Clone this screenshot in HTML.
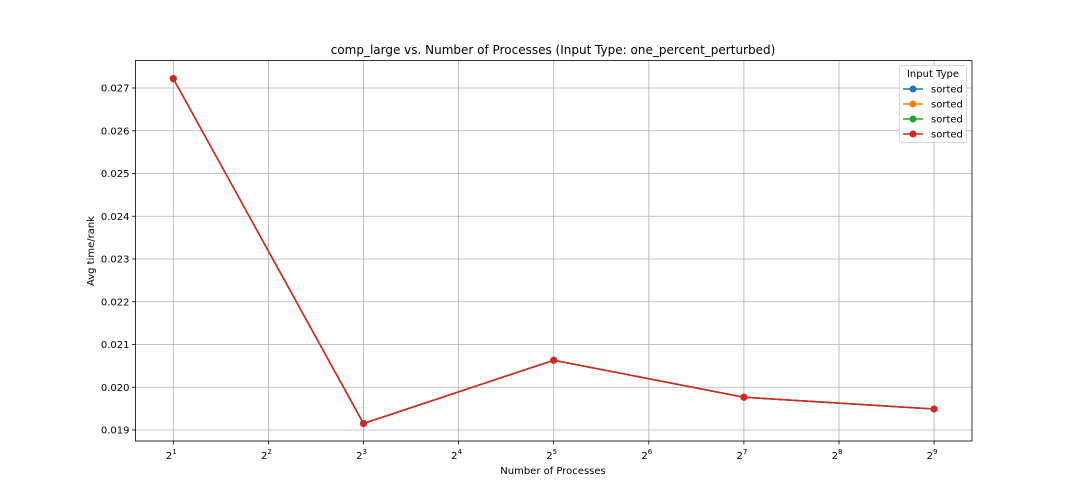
<!DOCTYPE html>
<html><head><meta charset="utf-8"><style>
body{margin:0;background:#fff;}
svg{display:block;font-family:"DejaVu Sans","Liberation Sans",sans-serif;}
</style></head><body>
<svg id="c" width="1080" height="504"></svg>
<script>
const exponents=[1,3,5,7,9];
const seriesNames=["sorted","sorted","sorted","sorted"];
const seriesColors=["#1f77b4","#ff7f0e","#2ca02c","#d62728"];
const values=[0.02722,0.019152,0.020632,0.019766,0.019491];
const yTicks=[0.019,0.020,0.021,0.022,0.023,0.024,0.025,0.026,0.027];
const xTicks=[1,2,3,4,5,6,7,8,9];

const NS="http://www.w3.org/2000/svg";
const svg=document.getElementById('c');
const L=135.5,R=972,T=60.5,B=441;
const xs=e=>173.3+(e-1)*95.1;
const ys=v=>430-(v-0.019)*42750;
function mk(t,a,p){const e=document.createElementNS(NS,t);for(const k in a)e.setAttribute(k,a[k]);(p||svg).appendChild(e);return e;}

const grid=mk('g',{});


xTicks.forEach(e=>{
  const x=xs(e);
  mk('line',{x1:x,x2:x,y1:T,y2:B,stroke:'#b0b0b0','stroke-width':0.8},grid);
  mk('line',{x1:x,x2:x,y1:B,y2:B+3.5,stroke:'#000','stroke-width':0.8},grid);
  const t=mk('text',{x:x-2,y:B+18,'font-size':10,'text-anchor':'middle'});
  
  
  t.innerHTML='2<tspan font-size="7" dy="-5">'+e+'</tspan>';
});
yTicks.forEach(v=>{
  const y=ys(v);
  mk('line',{x1:L,x2:R,y1:y,y2:y,stroke:'#b0b0b0','stroke-width':0.8},grid);
  mk('line',{x1:L-3.5,x2:L,y1:y,y2:y,stroke:'#000','stroke-width':0.8},grid);
  const t=mk('text',{x:L-6,y:y+3.5,'font-size':10,'text-anchor':'end'});
  
  
  t.textContent=v.toFixed(3);
});
const frame=mk('rect',{x:L,y:T,width:R-L,height:B-T,fill:'none',stroke:'#000','stroke-width':0.8});



seriesColors.forEach((c,i)=>{
  const g=mk('g',{});
  
  
  const pts=exponents.map((e,j)=>xs(e)+','+ys(values[j])).join(' ');
  mk('polyline',{points:pts,fill:'none',stroke:c,'stroke-width':1.5},g);
  exponents.forEach((e,j)=>{
    const p=mk('circle',{cx:xs(e),cy:ys(values[j]),r:3.5,fill:c},g);
    
    
  });
});

const title=mk('text',{x:553,y:54,'font-size':12,'text-anchor':'middle'});


title.textContent='comp_large vs. Number of Processes (Input Type: one_percent_perturbed)';
const xt=mk('text',{x:553,y:474,'font-size':10,'text-anchor':'middle'});


xt.textContent='Number of Processes';
const yt=mk('text',{x:94,y:251,'font-size':10,'text-anchor':'middle',transform:'rotate(-90 94 251)'});


yt.textContent='Avg time/rank';

const lg=mk('g',{});


mk('rect',{x:899.5,y:65.5,width:67,height:77,rx:2,fill:'#fff',stroke:'#ccc','stroke-width':0.8},lg);
const lt=mk('text',{x:933,y:77,'font-size':10,'text-anchor':'middle'},lg);
lt.textContent='Input Type';
seriesNames.forEach((n,i)=>{
  const y=89+i*15;
  const e=mk('g',{},lg);
  
  
  mk('line',{x1:903,x2:923,y1:y,y2:y,stroke:seriesColors[i],'stroke-width':1.5},e);
  mk('circle',{cx:913,cy:y,r:3.5,fill:seriesColors[i]},e);
  const t=mk('text',{x:931,y:y+3.5,'font-size':10},e);
  t.textContent=n;
});
</script>
</body></html>
